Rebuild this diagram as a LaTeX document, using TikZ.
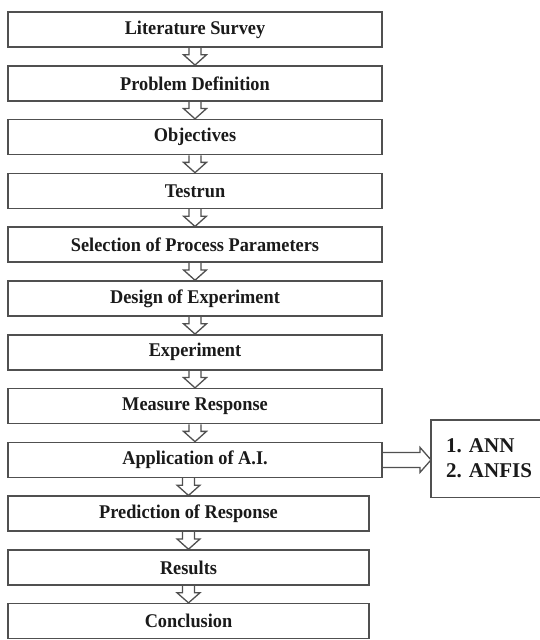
\documentclass[tikz,border=0pt]{standalone}
\usepackage{fontspec}
\setmainfont{Liberation Serif}
\usetikzlibrary{calc}
\definecolor{edge}{HTML}{505050}
\definecolor{ink}{HTML}{1A1A1A}
\tikzset{
  stepbox/.style={draw=edge, line width=1.5pt, fill=white, minimum height=35pt, inner sep=0pt,
    font=\fontsize{18.3}{20}\selectfont\bfseries, text=ink},
  widebox/.style={stepbox, minimum width=374pt},
  narrowbox/.style={stepbox, minimum width=361pt},
  blk/.style={draw=edge, line width=1.3pt, line join=miter},
}
\newcommand{\blockarr}[2]{%
  \draw[blk] let \p1=(#1.south), \p2=(#2.north) in
    (\x2-6pt,\y1) -- (\x2-6pt,\y1-7pt) -- (\x2-11.5pt,\y1-7pt) -- (\x2,\y2) --
    (\x2+11.5pt,\y1-7pt) -- (\x2+6pt,\y1-7pt) -- (\x2+6pt,\y1);}
\newcommand{\tall}[1]{\scalebox{1}[1.06]{#1}}
\begin{document}
\begin{tikzpicture}[x=1pt,y=-1pt]
\useasboundingbox (0,0) rectangle (540,640);
\node[widebox] (n1) at (195,29.5) {\tall{Literature Survey}};
\node[widebox] (n2) at (195,83.3) {\tall{Problem Definition}};
\node[widebox] (n3) at (195,137.1) {\tall{Objectives}};
\node[widebox] (n4) at (195,190.9) {\tall{Testrun}};
\node[widebox] (n5) at (195,244.7) {\tall{Selection of Process Parameters}};
\node[widebox] (n6) at (195,298.5) {\tall{Design of Experiment}};
\node[widebox] (n7) at (195,352.3) {\tall{Experiment}};
\node[widebox] (n8) at (195,406.1) {\tall{Measure Response}};
\node[widebox] (n9) at (195,459.9) {\tall{Application of A.I.}};
\node[narrowbox] (n10) at (188.5,513.7) {\tall{Prediction of Response}};
\node[narrowbox] (n11) at (188.5,567.5) {\tall{Results}};
\node[narrowbox] (n12) at (188.5,621.1) {\tall{Conclusion}};
\blockarr{n1}{n2}
\blockarr{n2}{n3}
\blockarr{n3}{n4}
\blockarr{n4}{n5}
\blockarr{n5}{n6}
\blockarr{n6}{n7}
\blockarr{n7}{n8}
\blockarr{n8}{n9}
\blockarr{n9}{n10}
\blockarr{n10}{n11}
\blockarr{n11}{n12}
% A.I. methods box (its right side runs off the picture)
\node[minimum width=109pt, minimum height=77pt, inner sep=0pt, anchor=north west] (ai) at (431,420) {};
\draw[draw=edge, line width=1.5pt] (ai.north east) -- (ai.north west) -- (ai.south west) -- (ai.south east);
\node[anchor=west, align=left, text=ink, inner sep=0pt,
  font=\fontsize{21}{25}\selectfont\bfseries] (ailist) at (446,458) {1. ANN\\2. ANFIS};
\draw[blk] let \p1=(n9.east), \p2=(ai.west) in
  (\x1,\y1+7.5pt) -- (\x2-11pt,\y1+7.5pt) -- (\x2-11pt,\y1+12.5pt) -- (\x2,\y1) --
  (\x2-11pt,\y1-12.5pt) -- (\x2-11pt,\y1-7.5pt) -- (\x1,\y1-7.5pt);
\end{tikzpicture}
\end{document}
